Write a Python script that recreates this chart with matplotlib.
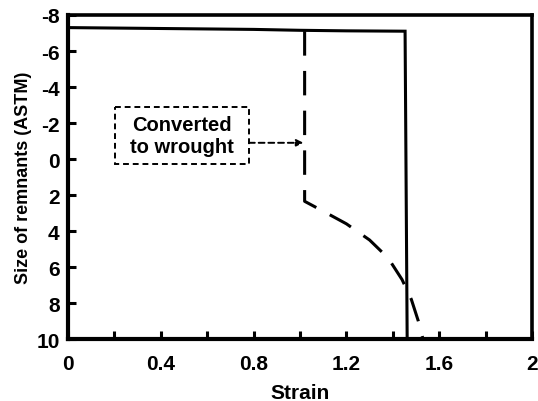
import matplotlib
matplotlib.use("Agg")
import matplotlib.pyplot as plt
from matplotlib.patches import Rectangle
from matplotlib.ticker import MultipleLocator

plt.rcParams["font.family"] = ["Liberation Sans", "DejaVu Sans"]
plt.rcParams["font.weight"] = "bold"
plt.rcParams["axes.unicode_minus"] = False

# Cast structure: remnant size stays coarse until the strain where it vanishes
cast_strain = [0.0, 0.4, 0.8, 1.0, 1.2, 1.453, 1.462]
cast_size = [-7.3, -7.25, -7.2, -7.15, -7.12, -7.1, 10.0]

# Converted to wrought structure at strain ~1.02, then remnants refine
wrought_strain = [1.02, 1.02, 1.10, 1.20, 1.30, 1.38, 1.44, 1.48, 1.51, 1.53]
wrought_size = [-7.1, 2.35, 2.9, 3.6, 4.5, 5.5, 6.7, 7.8, 9.0, 10.0]

x_ticks = [0, 0.4, 0.8, 1.2, 1.6, 2]
x_tick_labels = ["0", "0.4", "0.8", "1.2", "1.6", "2"]
y_ticks = [-8, -6, -4, -2, 0, 2, 4, 6, 8, 10]

fig = plt.figure(figsize=(5.38, 4.02), dpi=100)
ax = fig.add_axes([0.1264, 0.1542, 0.8624, 0.806])

ax.plot(cast_strain, cast_size, color="black", lw=2.2, solid_joinstyle="miter")
ax.plot(wrought_strain, wrought_size, color="black", lw=2.2,
        linestyle=(0, (8, 5)))

ax.set_xlim(0, 2)
ax.set_ylim(10, -8)

ax.set_xticks(x_ticks)
ax.set_xticklabels(x_tick_labels)
ax.xaxis.set_minor_locator(MultipleLocator(0.2))
ax.set_yticks(y_ticks)

ax.tick_params(axis="both", which="both", direction="in", top=False, right=False)
ax.tick_params(axis="both", which="major", length=6, width=2.2, labelsize=15)
ax.tick_params(axis="x", which="major", pad=11)
ax.tick_params(axis="y", which="major", pad=6)
ax.tick_params(axis="x", which="minor", length=6, width=2.2)
for lab in ax.get_xticklabels() + ax.get_yticklabels():
    lab.set_fontweight("bold")

for side in ["left", "bottom"]:
    ax.spines[side].set_linewidth(3)
for side in ["top", "right"]:
    ax.spines[side].set_linewidth(2.6)

ax.set_xlabel("Strain", fontsize=15, fontweight="bold", labelpad=7)
ax.set_ylabel("Size of remnants (ASTM)", fontsize=13, fontweight="bold", labelpad=3)

# Dashed callout box with arrow to the conversion point
ax.add_patch(Rectangle((0.203, -2.89), 0.577, 3.17, fill=False, ec="black",
                       lw=1.4, linestyle=(0, (3, 2))))
ax.text(0.4915, -1.3, "Converted\nto wrought", ha="center", va="center",
        fontsize=14.5, fontweight="bold", linespacing=1.15)
ax.annotate("", xy=(1.015, -0.9), xytext=(0.78, -0.9),
            arrowprops=dict(arrowstyle="-|>", color="black", lw=1.4,
                            linestyle=(0, (3, 2)), mutation_scale=10,
                            shrinkA=0, shrinkB=0))

fig.savefig("out.png", dpi=100)
